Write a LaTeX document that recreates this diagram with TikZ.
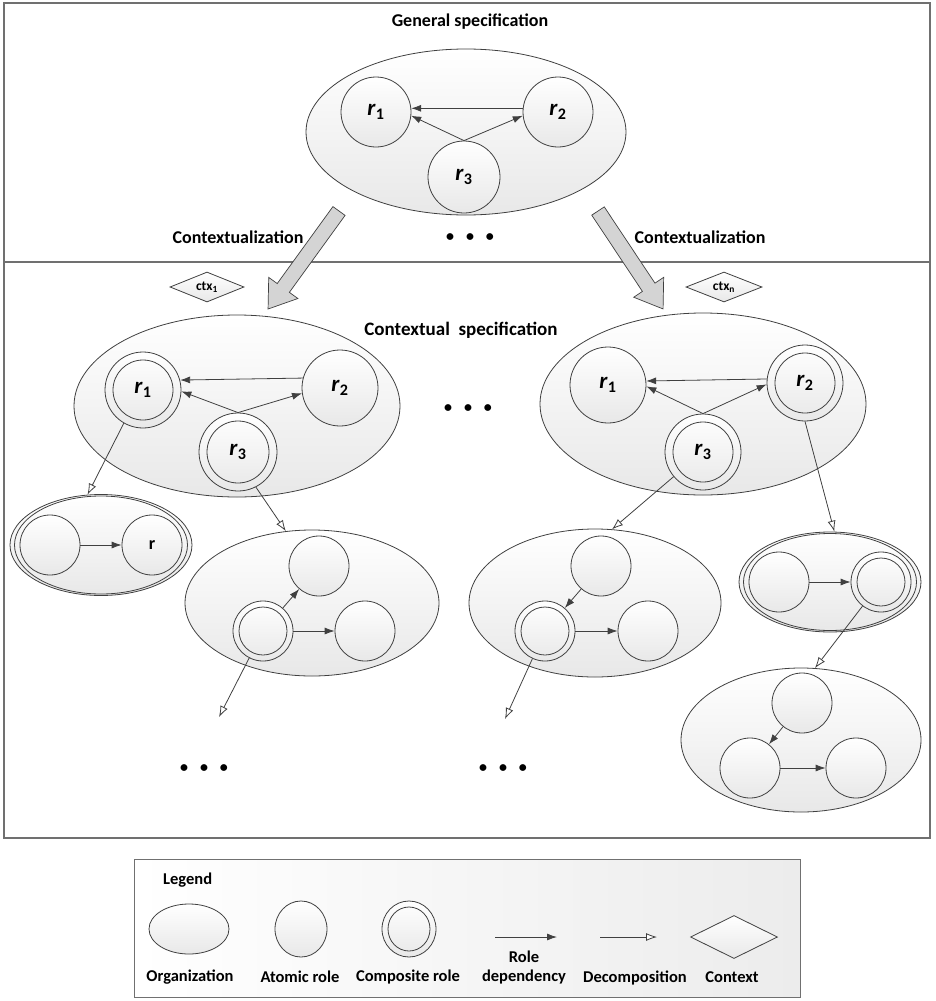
\documentclass[tikz,border=0pt]{standalone}
\usepackage{fontspec}
\setmainfont{Carlito}
\usetikzlibrary{shapes.geometric,arrows.meta,calc}
\definecolor{linecol}{RGB}{64,64,64}
\definecolor{framecol}{RGB}{112,112,112}
\definecolor{fillbot}{RGB}{232,232,232}
\definecolor{arrowgray}{RGB}{212,212,212}
\definecolor{legendright}{RGB}{236,236,236}
\newcommand{\rolename}[1]{\textit{r}\textsubscript{#1}}
\newcommand{\rolefont}{\fontsize{23}{25}\selectfont\bfseries}
\newcommand{\bulletrow}{•\hskip 12pt•\hskip 12pt•}

\begin{document}
\begin{tikzpicture}[x=1pt,y=-1pt,
  ln/.style={draw=linecol,line width=0.8pt},
  orgn/.style 2 args={ellipse,ln,top color=white,bottom color=fillbot,
    inner sep=0pt,minimum width=#1,minimum height=#2},
  corg/.style n args={4}{orgn={#1}{#2},
    path picture={\draw[ln] (path picture bounding box.center)
      ellipse [x radius=#3,y radius=#4];}},
  role/.style={circle,ln,top color=white,bottom color=fillbot,
    inner sep=0pt,minimum size=#1,font=\rolefont},
  crole/.style 2 args={role=#1,
    path picture={\draw[ln] (path picture bounding box.center) circle [radius=#2];}},
  ctxbox/.style={diamond,aspect=2.3,ln,top color=white,bottom color=fillbot,
    inner sep=0pt,font=\fontsize{13.5}{15}\selectfont\bfseries},
  deparrow/.style={ln,-{Latex[length=10pt,width=7pt]}},
  decarrow/.style={ln,-{Latex[open,length=11pt,width=8pt,fill=white]}},
  garrow/.style={draw=linecol,line width=0.7pt,fill=arrowgray},
  framestyle/.style={draw=framecol,line width=1.2pt},
  title/.style={font=\fontsize{18}{20}\selectfont\bfseries,inner sep=0pt},
  lfont/.style={font=\fontsize{16.5}{18}\selectfont\bfseries,inner sep=0pt},
  dots/.style={font=\fontsize{16}{18}\selectfont\bfseries,inner sep=0pt}]

\useasboundingbox (0,0) rectangle (935,1001);

% outer frame and the line between the two levels
\draw[framestyle] (4,3) rectangle (930,838);
\draw[framestyle] (4,262) -- (930,262);

% general specification
\node[title] (gtitle) at (470,22) {General specification};
\node[orgn={320pt}{166pt}] (gorg) at (466,132) {};
\node[role=70pt] (g1) at (376,112) {\rolename{1}};
\node[role=70pt] (g2) at (558,112) {\rolename{2}};
\node[role=72pt] (g3) at (464,177) {\rolename{3}};
\draw[deparrow] (g2.174) -- (g1.6);
\draw[deparrow] (g3.north) -- (g1.-6);
\draw[deparrow] (g3.north) -- (g2.186);

\node[title] (ctxl) at (238,237) {Contextualization};
\node[title] (ctxr) at (700,237) {Contextualization};
\node[dots] (gdots) at (470,238) {\bulletrow};

% contextualization arrows
\begin{scope}[shift={(339,211)},rotate=234.1]
  \draw[garrow] (0,-7.5) -- (95,-7.5) -- (95,-18) -- (121,0) -- (95,18) -- (95,7.5) -- (0,7.5) -- cycle;
\end{scope}
\begin{scope}[shift={(598,211)},rotate=-56.4]
  \draw[garrow] (0,-7.5) -- (91.6,-7.5) -- (91.6,-18) -- (117.6,0) -- (91.6,18) -- (91.6,7.5) -- (0,7.5) -- cycle;
\end{scope}

\node[ctxbox,minimum width=74pt,minimum height=30pt] (c1) at (207,287) {ctx\textsubscript{1}};
\node[ctxbox,minimum width=76pt,minimum height=30pt] (cn) at (724,287) {ctx\textsubscript{n}};

\node[title,font=\fontsize{19}{21}\selectfont\bfseries] (cspec) at (461,330) {Contextual~~specification};

% first contextual organization
\node[orgn={326pt}{182pt}] (lorg) at (237,406) {};
\node[crole={76pt}{30pt}] (l1) at (143,390) {\rolename{1}};
\node[role=76pt] (l2) at (340,388) {\rolename{2}};
\node[crole={78pt}{31pt}] (l3) at (238,452) {\rolename{3}};
\draw[deparrow] (l2.165) -- (l1.15);
\draw[deparrow] (l3.north) -- (l1.-2);
\draw[deparrow] (l3.north) -- (l2.188);

\node[dots] (mdots) at (468,409) {\bulletrow};

% n-th contextual organization
\node[orgn={326pt}{182pt}] (rorg) at (703,404) {};
\node[role=76pt] (q1) at (608,385) {\rolename{1}};
\node[crole={76pt}{30pt}] (q2) at (805,383) {\rolename{2}};
\node[crole={76pt}{30pt}] (q3) at (703,452) {\rolename{3}};
\draw[deparrow] (q2.174) -- (q1.6);
\draw[deparrow] (q3.north) -- (q1.-2);
\draw[deparrow] (q3.north) -- (q2.182);

% decomposition of r1 (first context)
\node[corg={182pt}{101pt}{86.5pt}{49pt}] (aorg) at (101,545) {};
\node[role=60pt] (a1) at (50,545) {};
\node[role=60pt,font=\fontsize{18}{20}\selectfont\bfseries] (a2) at (152,545) {r};
\draw[deparrow] (a1) -- (a2);
\draw[decarrow] (l1.240) -- (aorg.105);

% decomposition of r3 (first context)
\node[orgn={254pt}{146pt}] (borg) at (312,603) {};
\node[role=60pt] (b1) at (319,566) {};
\node[crole={60pt}{24pt}] (b2) at (263,631) {};
\node[role=60pt] (b3) at (365,631) {};
\draw[deparrow] (b2) -- (b1);
\draw[deparrow] (b2) -- (b3);
\draw[decarrow] (l3.-63) -- (borg.110);
\coordinate (bdn) at (219,717);
\draw[decarrow] (b2) -- (bdn);
\node[dots] (bdots) at (204,769) {\bulletrow};

% decomposition of r3 (n-th context)
\node[orgn={252pt}{148pt}] (dorg) at (595,603) {};
\node[role=60pt] (d1) at (601,566) {};
\node[crole={60pt}{24pt}] (d2) at (545,631) {};
\node[role=60pt] (d3) at (648,631) {};
\draw[deparrow] (d1) -- (d2);
\draw[deparrow] (d2) -- (d3);
\draw[decarrow] (q3.220) -- (dorg.77);
\coordinate (ddn) at (505,719);
\draw[decarrow] (d2) -- (ddn);
\node[dots] (ddots) at (503,769) {\bulletrow};

% decomposition of r2 (n-th context)
\node[corg={182pt}{100pt}{86.5pt}{48.5pt}] (eorg) at (830,582) {};
\node[role=60pt] (e1) at (779,582) {};
\node[crole={60pt}{24pt}] (e2) at (881,582) {};
\draw[deparrow] (e1) -- (e2);
\draw[decarrow] (q2.south) -- (eorg.85);

\node[orgn={240pt}{144pt}] (forg) at (801,740) {};
\node[role=60pt] (f1) at (802,703) {};
\node[role=60pt] (f2) at (750,768) {};
\node[role=60pt] (f3) at (856,768) {};
\draw[deparrow] (f1) -- (f2);
\draw[deparrow] (f2) -- (f3);
\draw[decarrow] (e2) -- (forg.79);

% legend
\node[draw=framecol,line width=1pt,left color=white,right color=legendright,
  minimum width=666pt,minimum height=138pt,inner sep=0pt] (lg) at (467,928) {};
\node[lfont,anchor=west] (lgt) at (163,880) {Legend};
\node[orgn={80pt}{50pt}] (lgorg) at (189,929) {};
\node[ellipse,ln,top color=white,bottom color=fillbot,inner sep=0pt,
  minimum width=52pt,minimum height=56pt] (lgatom) at (301,929) {};
\node[ellipse,ln,top color=white,bottom color=fillbot,inner sep=0pt,
  minimum width=54pt,minimum height=56pt,
  path picture={\draw[ln] (path picture bounding box.center) ellipse [x radius=21pt,y radius=22pt];}]
  (lgcomp) at (409,929) {};
\coordinate (lgd1) at (495,937);
\coordinate (lgd2) at (557,937);
\draw[deparrow] (lgd1) -- (lgd2);
\coordinate (lgc1) at (600,937);
\coordinate (lgc2) at (657,937);
\draw[decarrow] (lgc1) -- (lgc2);
\node[ctxbox,minimum width=87pt,minimum height=43pt] (lgctx) at (734,937) {};
\node[lfont] (lt1) at (190,977) {Organization};
\node[lfont] (lt2) at (300,977) {Atomic role};
\node[lfont] (lt3) at (408,977) {Composite role};
\node[lfont,align=center] (lt4) at (524,967) {Role\\[1pt]dependency};
\node[lfont] (lt5) at (635,978) {Decomposition};
\node[lfont] (lt6) at (732,977) {Context};
\end{tikzpicture}
\end{document}
